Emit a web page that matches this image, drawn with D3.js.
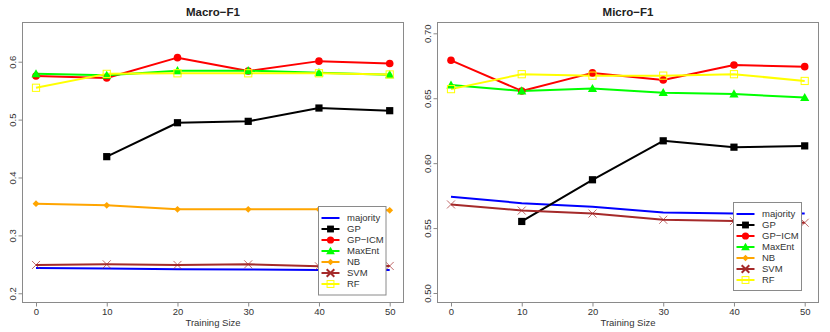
<!DOCTYPE html>
<html>
<head>
<meta charset="utf-8">
<script src="https://cdn.jsdelivr.net/npm/d3@7"></script>
<style>
  body { margin: 0; background: #fff; }
  svg { display: block; font-family: "Liberation Sans", Arial, sans-serif; }
</style>
</head>
<body>
<svg id="chart" width="830" height="332"></svg>
<script>
// Training sizes on x
const trainSizes = [0, 10, 20, 30, 40, 50];
const seriesNames = ["majority", "GP", "GP\u2212ICM", "MaxEnt", "NB", "SVM", "RF"];

// Macro-F1 values
const macroMajority = [0.2437, 0.2426, 0.2415, 0.241, 0.2403, 0.2403];
const macroGP       = [null, 0.436, 0.4946, 0.497, 0.520, 0.5154];
const macroGPICM    = [0.5753, 0.572, 0.607, 0.584, 0.601, 0.597];
const macroMaxEnt   = [0.579, 0.5765, 0.5845, 0.5845, 0.581, 0.5776];
const macroNB       = [0.3547, 0.352, 0.345, 0.345, 0.345, 0.3433];
const macroSVM      = [0.2489, 0.250, 0.249, 0.250, 0.2466, 0.2472];
const macroRF       = [0.555, 0.579, 0.580, 0.580, 0.580, 0.578];

// Micro-F1 values
const microMajority = [0.5741, 0.5692, 0.5664, 0.562, 0.5612, 0.5612];
const microGP       = [null, 0.5551, 0.5872, 0.6172, 0.6123, 0.6133];
const microGPICM    = [0.6792, 0.6556, 0.6695, 0.664, 0.6756, 0.6743];
const microMaxEnt   = [0.6602, 0.6556, 0.6574, 0.6543, 0.6533, 0.6505];
const microNB       = [null, null, null, null, null, null];
const microSVM      = [0.5682, 0.5635, 0.5612, 0.5564, 0.5554, 0.5541];
const microRF       = [0.657, 0.6685, 0.6674, 0.6674, 0.6685, 0.6633];

// Tick labels
const macroTicks = [0.2, 0.3, 0.4, 0.5, 0.6];
const microTicks = [0.50, 0.55, 0.60, 0.65, 0.70];

const colours = ["#0000ff", "#000000", "#ff0000", "#00ff00", "#ffa500", "#a52a2a", "#ffff00"];
const shapes = ["none", "square", "circle", "triangle", "diamond", "cross", "opensquare"];

let svg = d3.select("#chart");

// Draw one point symbol
function drawSymbol(g, shape, colour, x, y, legend) {
  let s = legend ? 0.95 : 1;
  if (shape === "square") {
    g.append("rect").attr("x", x - 3.6 * s).attr("y", y - 3.6 * s)
      .attr("width", 7.2 * s).attr("height", 7.2 * s).attr("fill", colour);
  } else if (shape === "circle") {
    g.append("circle").attr("cx", x).attr("cy", y).attr("r", 3.8 * s).attr("fill", colour);
  } else if (shape === "triangle") {
    let h = 4.6 * s;
    g.append("path")
      .attr("d", `M${x},${y - h} L${x + h},${y + h * 0.75} L${x - h},${y + h * 0.75} Z`)
      .attr("fill", colour);
  } else if (shape === "diamond") {
    let h = 3.4 * s;
    g.append("path")
      .attr("d", `M${x},${y - h} L${x + h},${y} L${x},${y + h} L${x - h},${y} Z`)
      .attr("fill", colour);
  } else if (shape === "cross") {
    let h = 4 * s;
    g.append("path")
      .attr("d", `M${x - h},${y - h} L${x + h},${y + h} M${x - h},${y + h} L${x + h},${y - h}`)
      .attr("stroke", colour).attr("stroke-width", legend ? 2 : 1)
      .attr("opacity", legend ? 1 : 0.7).attr("fill", "none");
  } else if (shape === "opensquare") {
    g.append("rect").attr("x", x - 3.6 * s).attr("y", y - 3.6 * s)
      .attr("width", 7.2 * s).attr("height", 7.2 * s)
      .attr("fill", "none").attr("stroke", colour).attr("stroke-width", 1);
  }
}

function drawPanel(opt) {
  let g = svg.append("g");
  let x = d3.scaleLinear().domain([0, 50]).range(opt.xRange);
  let y = d3.scaleLinear().domain(opt.yDomain).range([303, 22]);
  let left = opt.box[0], right = opt.box[1];

  // Title
  g.append("text")
    .attr("x", (left + right) / 2).attr("y", 16)
    .attr("text-anchor", "middle")
    .attr("font-size", "11.5px").attr("font-weight", "bold")
    .attr("fill", "#222")
    .text(opt.title);

  // Series
  let line = d3.line()
    .defined(d => d != null)
    .x((d, i) => x(trainSizes[i]))
    .y(d => y(d));

  opt.series.forEach((vals, k) => {
    if (vals.every(v => v == null)) return;
    g.append("path")
      .datum(vals)
      .attr("d", line)
      .attr("fill", "none")
      .attr("stroke", colours[k])
      .attr("stroke-width", 2)
      .attr("stroke-linejoin", "round");
  });
  opt.series.forEach((vals, k) => {
    vals.forEach((v, i) => {
      if (v == null) return;
      drawSymbol(g, shapes[k], colours[k], x(trainSizes[i]), y(v), false);
    });
  });

  // Box
  g.append("rect")
    .attr("x", left).attr("y", 22.5)
    .attr("width", right - left).attr("height", 280)
    .attr("fill", "none").attr("stroke", "#8a8a8a").attr("stroke-width", 1);

  // X axis
  let xAxis = g.append("g")
    .attr("transform", "translate(0,302.5)")
    .call(d3.axisBottom(x).tickValues(trainSizes).tickSize(4).tickPadding(2));
  xAxis.select(".domain").remove();
  xAxis.selectAll("line").attr("stroke", "#8a8a8a");
  xAxis.selectAll("text").attr("font-size", "9.5px").attr("fill", "#333")
    .attr("font-family", "Liberation Sans, Arial, sans-serif");

  // Y axis
  let yAxis = g.append("g")
    .attr("transform", `translate(${left},0)`)
    .call(d3.axisLeft(y).tickValues(opt.ticks).tickSize(4).tickFormat(opt.fmt));
  yAxis.select(".domain").remove();
  yAxis.selectAll("line").attr("stroke", "#8a8a8a");
  yAxis.selectAll("text")
    .attr("font-size", "9.5px").attr("fill", "#333")
    .attr("font-family", "Liberation Sans, Arial, sans-serif")
    .attr("x", null).attr("dy", null)
    .attr("text-anchor", "middle")
    .attr("transform", "translate(-7,0) rotate(-90)");

  // X label
  g.append("text")
    .attr("x", (left + right) / 2).attr("y", 326)
    .attr("text-anchor", "middle")
    .attr("font-size", "9.5px").attr("fill", "#333")
    .text("Training Size");

  // Legend
  let lg = g.append("g");
  let lb = opt.legend;
  lg.append("rect")
    .attr("x", lb[0]).attr("y", lb[1]).attr("width", lb[2]).attr("height", lb[3])
    .attr("fill", "#fff").attr("stroke", "#8a8a8a").attr("stroke-width", 1);
  seriesNames.forEach((name, k) => {
    let yy = lb[1] + 11.5 + k * 11;
    let x0 = lb[0] + 3, x1 = lb[0] + 21;
    lg.append("line")
      .attr("x1", x0).attr("x2", x1).attr("y1", yy).attr("y2", yy)
      .attr("stroke", colours[k]).attr("stroke-width", 2);
    drawSymbol(lg, shapes[k], colours[k], (x0 + x1) / 2, yy, true);
    lg.append("text")
      .attr("x", lb[0] + 28.5).attr("y", yy).attr("dy", "0.35em")
      .attr("font-size", "9.5px").attr("fill", "#333")
      .text(name);
  });
}

drawPanel({
  title: "Macro\u2212F1",
  box: [22.5, 403.5],
  xRange: [36, 389.7],
  yDomain: [0.1832, 0.6686],
  ticks: macroTicks,
  fmt: d3.format(".1f"),
  series: [macroMajority, macroGP, macroGPICM, macroMaxEnt, macroNB, macroSVM, macroRF],
  legend: [318.5, 206.5, 67.5, 88.5]
});

drawPanel({
  title: "Micro\u2212F1",
  box: [437.5, 818.5],
  xRange: [451, 804.7],
  yDomain: [0.4923, 0.7087],
  ticks: microTicks,
  fmt: d3.format(".2f"),
  series: [microMajority, microGP, microGPICM, microMaxEnt, microNB, microSVM, microRF],
  legend: [733.5, 202.5, 68, 88]
});
</script>
</body>
</html>
